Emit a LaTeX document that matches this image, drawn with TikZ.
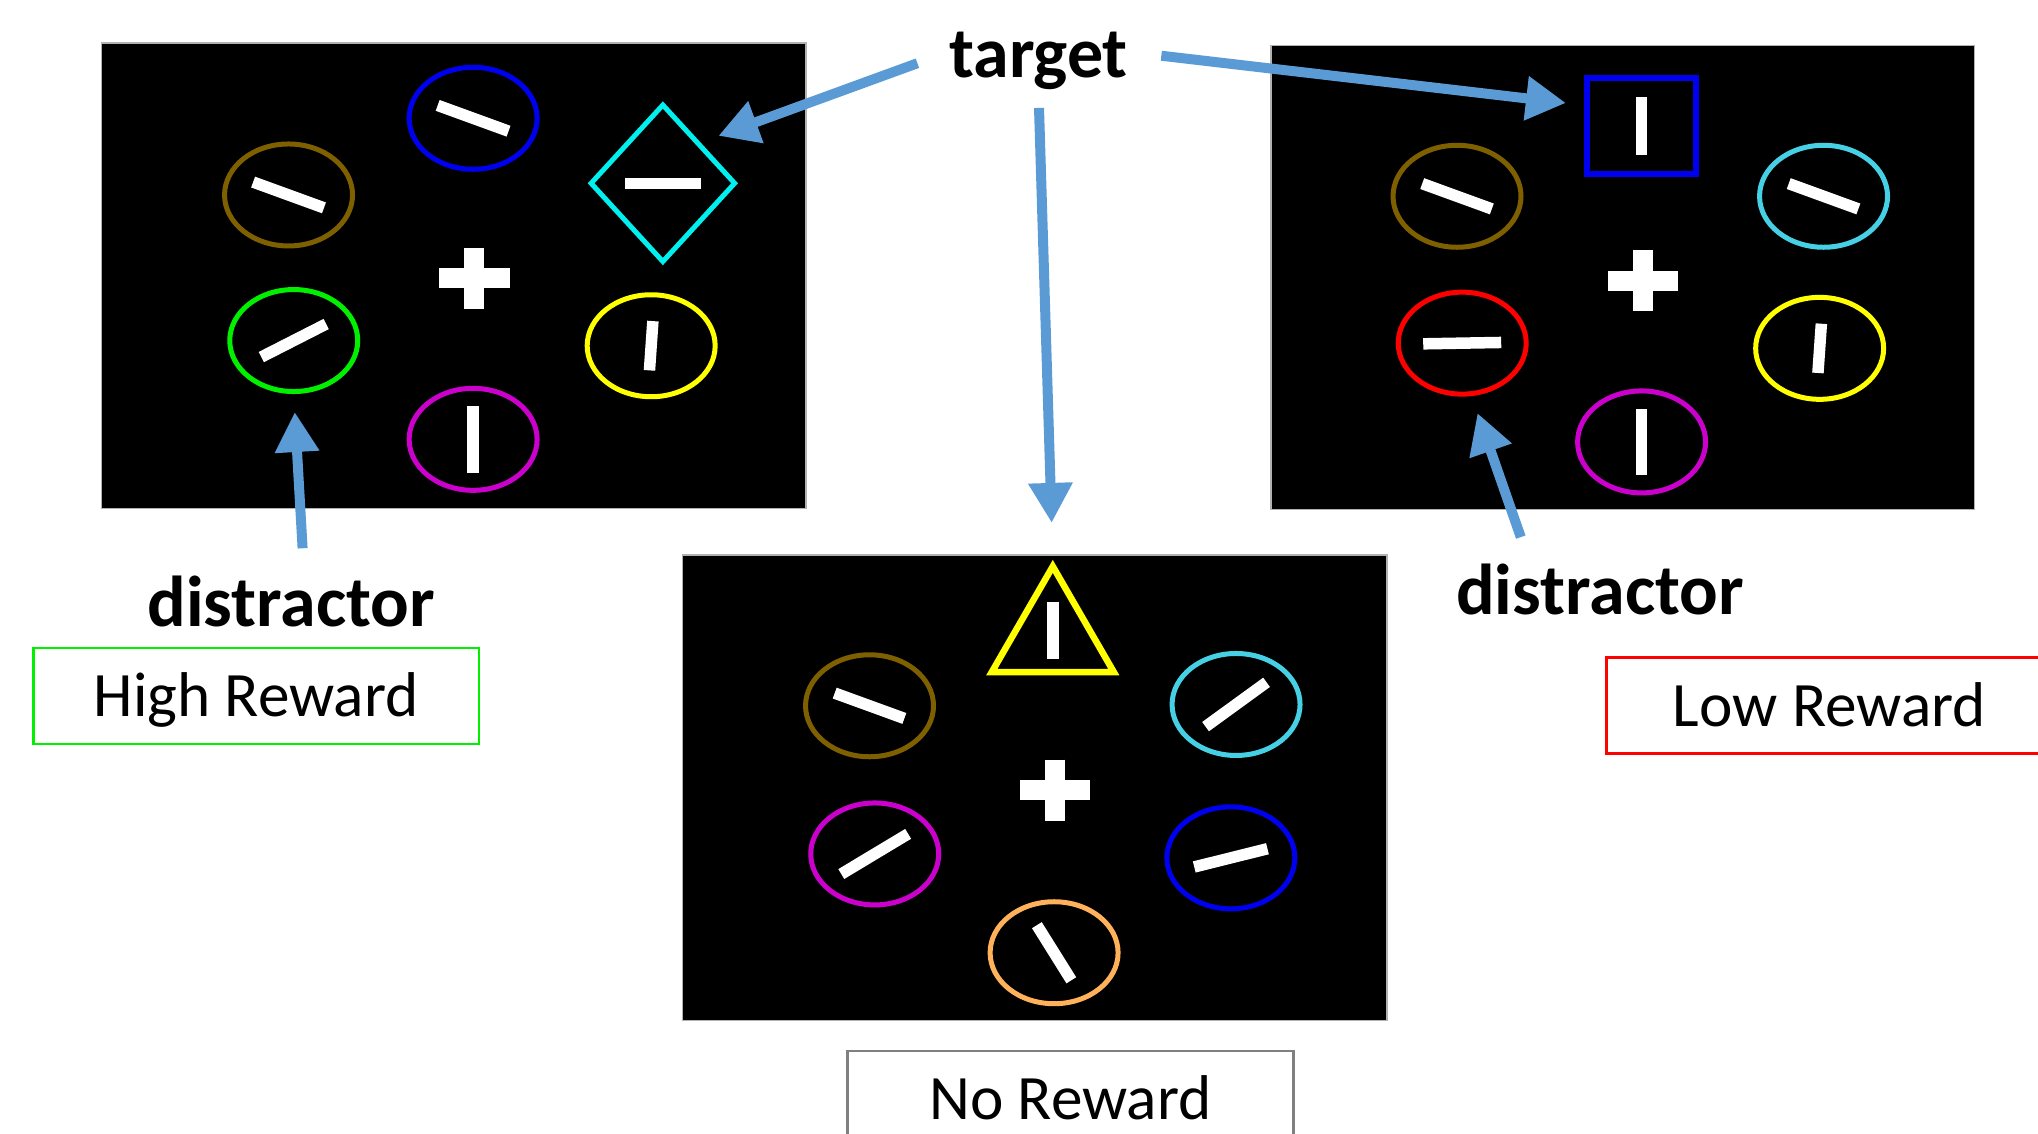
\documentclass[tikz,border=0pt]{standalone}
\usepackage{fontspec}
\setmainfont{Carlito}
\usetikzlibrary{shapes.geometric,arrows.meta}

\definecolor{arrowblue}{RGB}{91,155,213}
\definecolor{stimbrown}{RGB}{127,96,0}
\definecolor{stimblue}{RGB}{0,0,240}
\definecolor{stimcyan}{RGB}{70,208,230}
\definecolor{diacyan}{RGB}{0,240,240}
\definecolor{stimgreen}{RGB}{0,240,0}
\definecolor{stimyellow}{RGB}{255,255,0}
\definecolor{stimmagenta}{RGB}{204,0,204}
\definecolor{stimred}{RGB}{255,0,0}
\definecolor{stimorange}{RGB}{255,178,90}

\tikzset{
  panel/.style={fill=black, draw=gray!60, line width=0.4pt},
  stim/.style={ellipse, draw, line width=0.05cm, minimum width=1.28cm,
    minimum height=1.02cm, inner sep=0pt},
  barline/.style={white, line width=0.115cm},
  crossbar/.style={white, line width=0.2cm},
  cue/.style={font=\fontsize{20.5}{24}\selectfont\bfseries, inner sep=0pt},
  rewardbox/.style={draw, line width=0.8pt, minimum width=4.46cm,
    minimum height=0.96cm, text height=0.41cm, text depth=0pt, inner sep=0pt,
    font=\fontsize{18}{21}\selectfont},
  pointer/.style={draw=arrowblue, line width=0.1cm,
    -{Triangle[length=0.4cm,width=0.42cm]}}
}

\begin{document}
\begin{tikzpicture}[x=0.013cm,y=-0.013cm]
\useasboundingbox (0,0) rectangle (1568,872);
\clip (0,0) rectangle (1568,872);

% search displays
\path[panel] (78,33) rectangle (620,391);
\path[panel] (978,35) rectangle (1519,392);
\path[panel] (525,427) rectangle (1067,785);

% fixation crosses
\foreach \px/\py in {365/214,1264/216,812/608}{
  \draw[crossbar] (\px-27,\py) -- (\px+27,\py);
  \draw[crossbar] (\px,\py-23.5) -- (\px,\py+23.5);
}

% circles with oriented lines
\foreach \nm/\x/\y/\col/\ang/\len in {
  lbrn/222/150/stimbrown/20/58, lblu/364/91/stimblue/20/58,
  lgrn/226/262/stimgreen/-27/56, lyel/501/266/stimyellow/-86/38,
  lmag/364/338/stimmagenta/90/52,
  rbrn/1121/151/stimbrown/20/57, rcyn/1403/151/stimcyan/20/57,
  rred/1125/264/stimred/-1/60, ryel/1400/268/stimyellow/-86/38,
  rmag/1263/340/stimmagenta/90/51,
  bbrn/669/543/stimbrown/20/57, bcyn/951/542/stimcyan/-36/58,
  bmag/673/657/stimmagenta/-31/60, bblu/947/660/stimblue/-14/58,
  bora/811/733/stimorange/58/50}{
  \node[stim, draw=\col] (\nm) at (\x,\y) {};
  \draw[barline] (\nm.center) ++({\ang}:{\len/2}) -- ++({\ang+180}:{\len});
}

% targets
\node[diamond, draw=diacyan, line width=0.05cm, minimum width=1.456cm,
  minimum height=1.586cm, inner sep=0pt] (ltgt) at (510,141) {};
\draw[barline] (ltgt.center) ++(-29,0) -- ++(58,0);
\node[draw=stimblue, line width=0.065cm, minimum width=1.09cm,
  minimum height=0.96cm, inner sep=0pt] (rtgt) at (1263,97) {};
\draw[barline] (rtgt.center) ++(0,-22.5) -- ++(0,45);
\node[regular polygon, regular polygon sides=3, draw=stimyellow,
  line width=0.065cm, minimum size=1.41cm, inner sep=0pt] (btgt) at (810,490) {};
\draw[barline] (810,463) -- (810,507);

% labels
\node[cue, anchor=base] (tgt) at (799,60) {target};
\node[cue, anchor=base] (dl) at (224,482) {distractor};
\node[cue, anchor=base] (dr) at (1231,473) {distractor};
\node[rewardbox, draw=stimgreen] (hr) at (197,535.5) {High Reward};
\node[rewardbox, draw=stimred] (lr) at (1407.5,543) {Low Reward};
\node[rewardbox, draw=gray] (nr) at (823.5,845.5) {No Reward};

% pointers
\draw[pointer, shorten <=0.33cm, shorten >=0.19cm] (tgt.174) -- (ltgt.north east);
\draw[pointer, shorten <=0.33cm, shorten >=0.18cm] (tgt.6) -- (rtgt.160);
\draw[pointer, shorten <=0.17cm, shorten >=0.37cm] (tgt.south) -- (btgt.corner 1);
\draw[pointer, shorten <=0.27cm, shorten >=0.18cm] ([xshift=0.13cm]dl.north) -- (lgrn.south);
\draw[pointer, shorten <=0.28cm, shorten >=0.18cm] ([xshift=-0.7cm]dr.north) -- (rred.-80);
\end{tikzpicture}
\end{document}
